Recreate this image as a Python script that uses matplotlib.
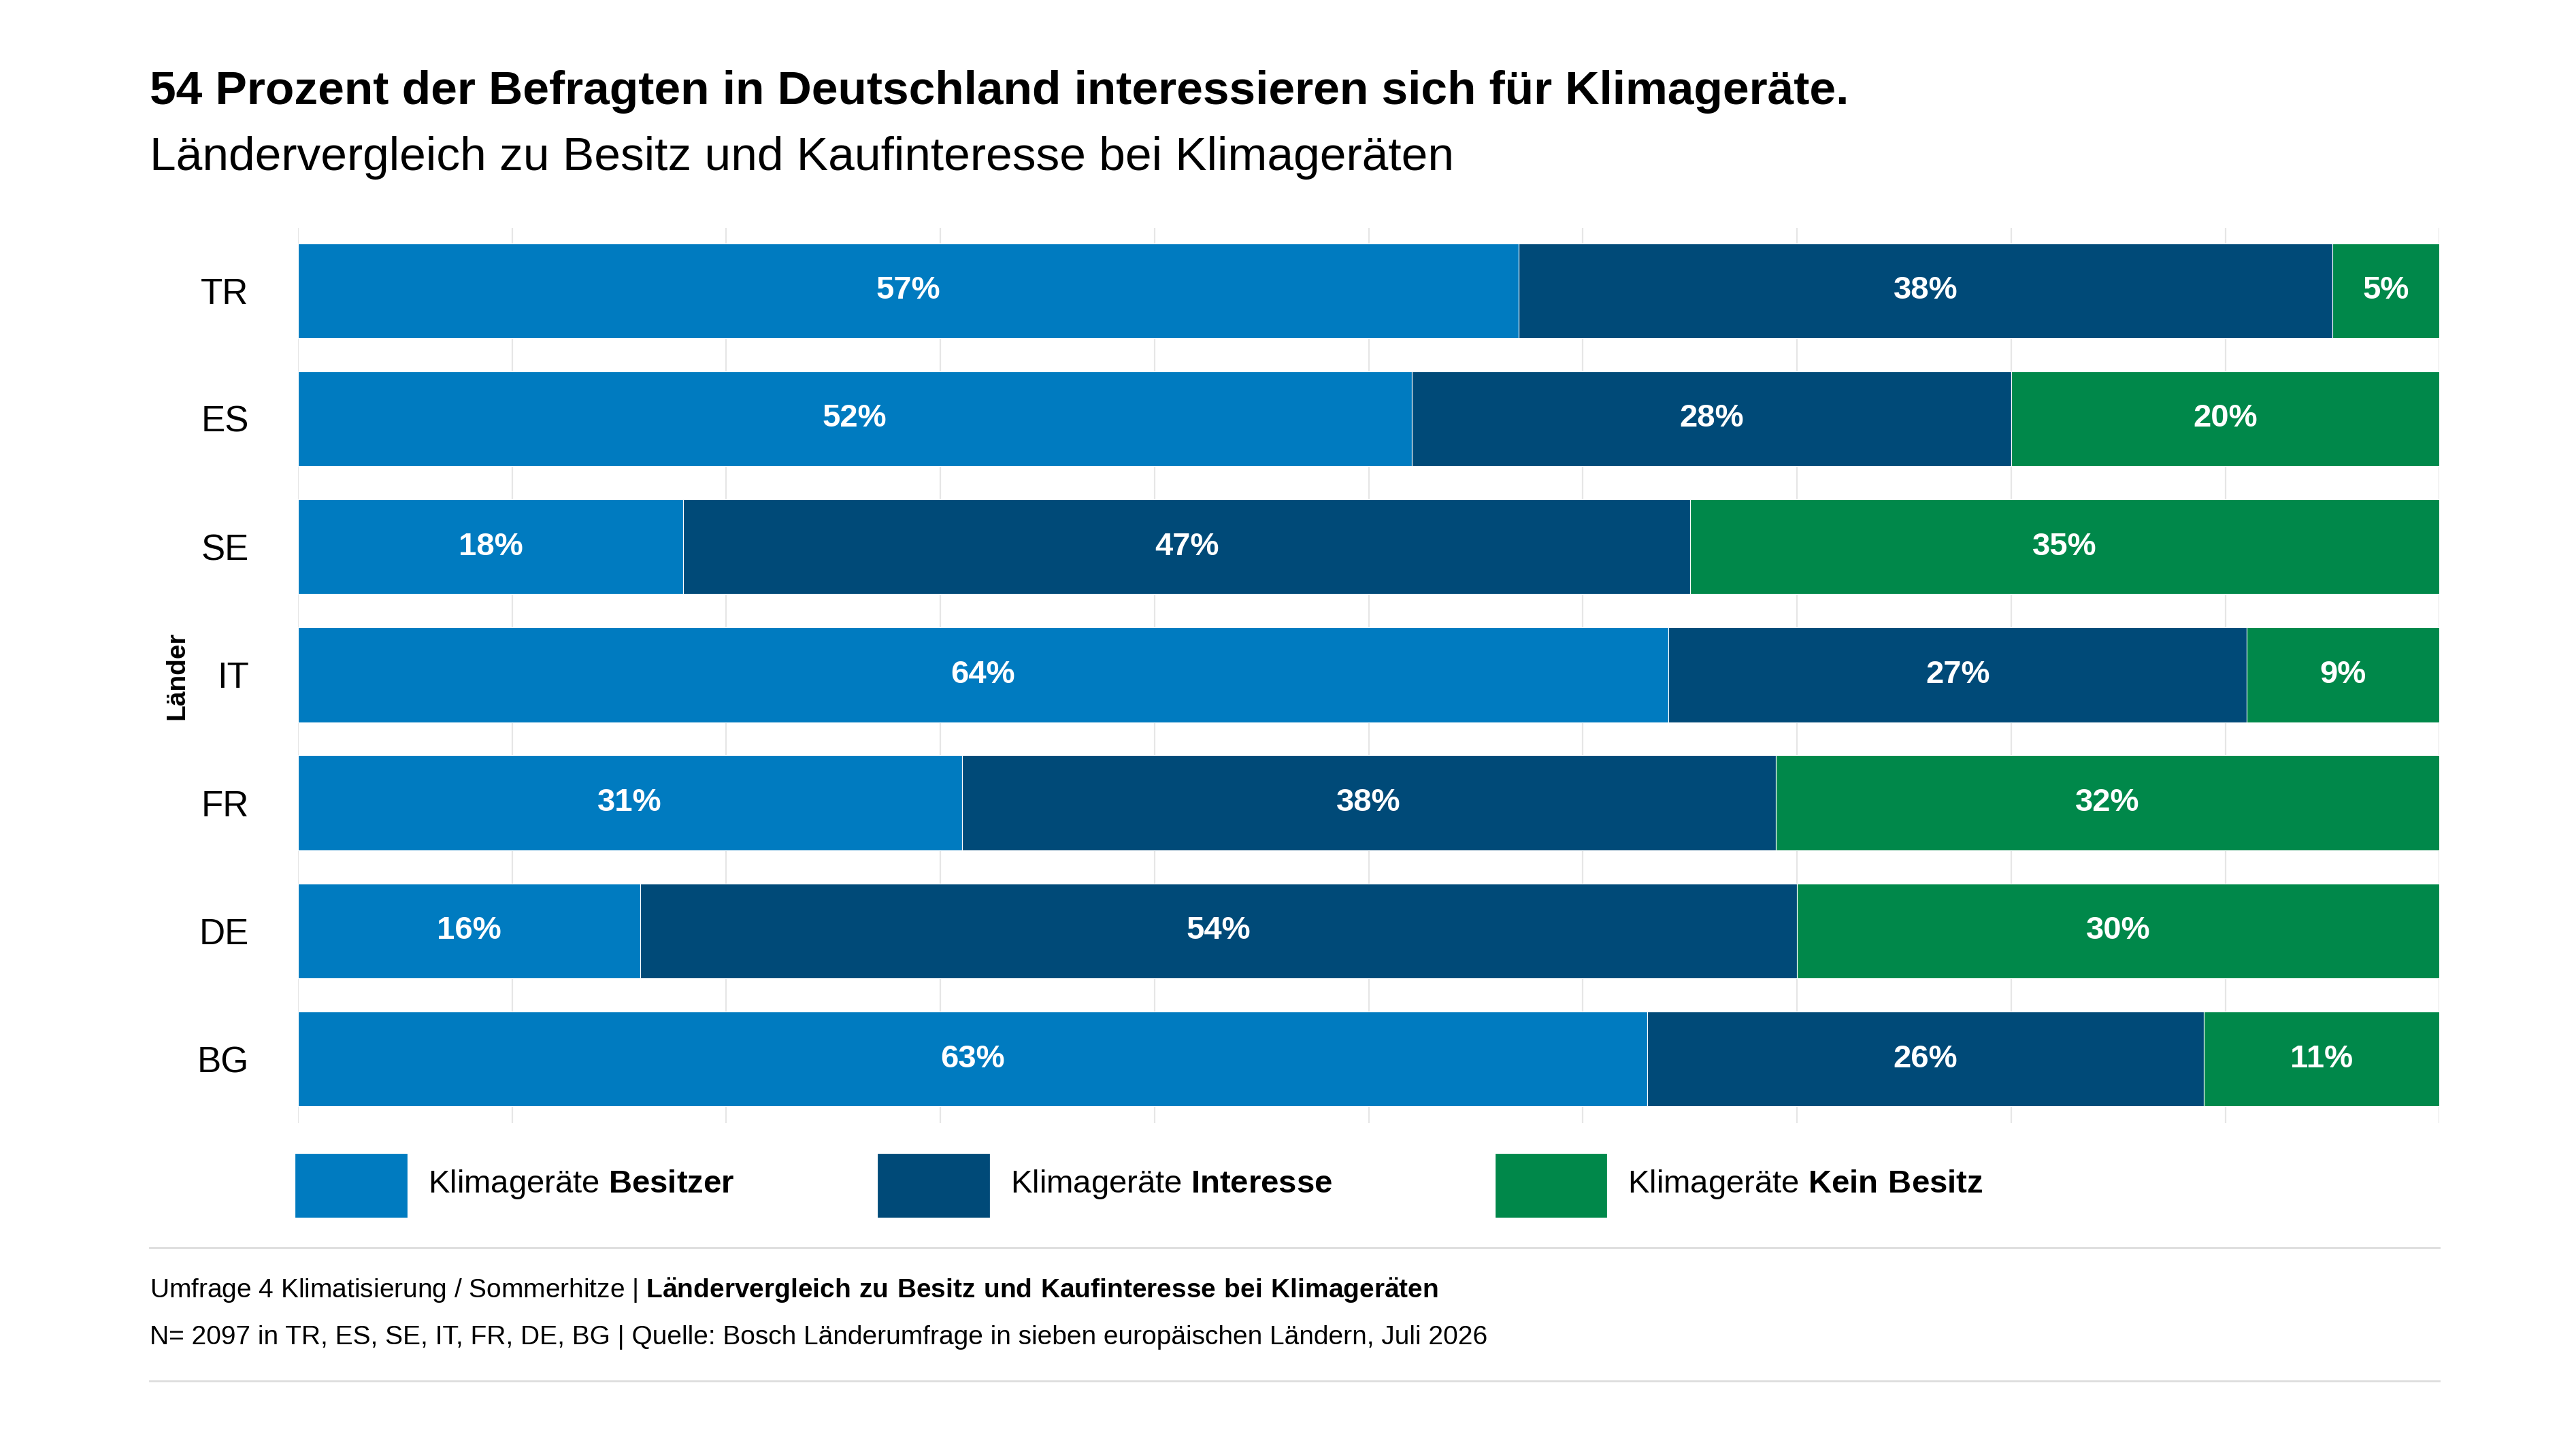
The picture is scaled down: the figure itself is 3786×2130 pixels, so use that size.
import matplotlib
matplotlib.use("Agg")
import matplotlib.pyplot as plt

countries = ["TR", "ES", "SE", "IT", "FR", "DE", "BG"]
besitzer = [57, 52, 18, 64, 31, 16, 63]
interesse = [38, 28, 47, 27, 38, 54, 26]
kein = [5, 20, 35, 9, 32, 30, 11]
series_names = ["Besitzer", "Interesse", "Kein Besitz"]
colors = ["#007BC0", "#004A78", "#00884A"]

plt.rcParams['font.family'] = ['Liberation Sans', 'DejaVu Sans']
plt.rcParams['mathtext.fontset'] = 'custom'
plt.rcParams['mathtext.bf'] = 'Liberation Sans:bold'
plt.rcParams['mathtext.rm'] = 'Liberation Sans'
fig = plt.figure(figsize=(18.93, 10.65), dpi=200)
W, H = 1548, 871
ax = fig.add_axes([179/W, 1-675/H, (1466-179)/W, (675-137)/H])

y = list(range(len(countries)))
left = [0]*len(countries)
for vals, c in zip([besitzer, interesse, kein], colors):
    ax.barh(y, vals, left=left, color=c, height=0.74, edgecolor="white", linewidth=0.4, zorder=2)
    for yi, l, v in zip(y, left, vals):
        ax.text(min(l + v/2, l + (100-l)/2), yi, f"{v}%", ha="center", va="center",
                color="white", fontsize=17, fontweight="bold", zorder=3)
    left = [a+b for a, b in zip(left, vals)]

ax.set_xlim(0, 100)
ax.set_ylim(6.5, -0.49)
ax.set_yticks(y)
ax.set_yticklabels(countries, fontsize=19)
ax.tick_params(axis="y", length=0, pad=26)
ax.set_xticks(range(0, 101, 10))
ax.set_xticklabels([])
ax.tick_params(axis="x", length=0)
ax.grid(axis="x", color="#e6e6e6", linewidth=0.8, zorder=0)
for s in ax.spines.values():
    s.set_visible(False)
ax.set_ylabel("Länder", fontsize=14, fontweight="bold", labelpad=4)

fig.text(90/W, 1-55/H, "54 Prozent der Befragten in Deutschland interessieren sich für Klimageräte.",
         fontsize=25, fontweight="bold", va="center")
fig.text(90/W, 1-95/H, "Ländervergleich zu Besitz und Kaufinteresse bei Klimageräten",
         fontsize=25, va="center")

lx = [178, 528, 899]
for x0, c, n in zip(lx, colors, series_names):
    fig.patches.append(plt.Rectangle((x0/W, 1-731/H), 66/W, 37/H, color=c, transform=fig.transFigure))
    fig.text((x0+79)/W, 1-712/H, "Klimageräte " + r"$\mathbf{" + n.replace(" ", r"\ ") + "}$",
             fontsize=17, va="center")

for yy in [750, 830]:
    fig.add_artist(plt.Line2D([90/W, 1466/W], [1-yy/H, 1-yy/H], color="#dddddd", linewidth=1))

fig.text(90/W, 1-776/H, "Umfrage 4 Klimatisierung / Sommerhitze | "
         + r"$\mathbf{L\ddot{a}ndervergleich\ zu\ Besitz\ und\ Kaufinteresse\ bei\ Klimager\ddot{a}ten}$",
         fontsize=14, va="center")
fig.text(90/W, 1-804/H, "N= 2097 in TR, ES, SE, IT, FR, DE, BG | Quelle: Bosch Länderumfrage in sieben europäischen Ländern, Juli 2026",
         fontsize=14, va="center")

fig.savefig("out.png", dpi=200, facecolor="white")
